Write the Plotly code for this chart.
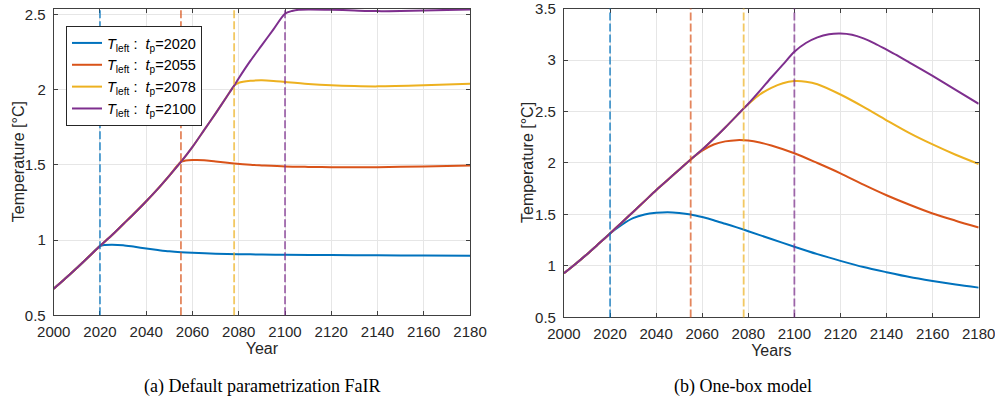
import plotly.graph_objects as go

# Peak years t_p and line colours (MATLAB default order)
PEAK_YEARS = [2020, 2055, 2078, 2100]
COLORS = ["#0072BD", "#D95319", "#EDB120", "#7E2F8E"]

# Shared warming path before the peak year (both panels use the same years)
PATH_YEARS = [2000, 2005, 2010, 2015, 2020, 2025, 2030, 2035, 2040, 2045, 2050,
              2055, 2060, 2065, 2070, 2075, 2078, 2080, 2085, 2090, 2095, 2100]

# (a) Default parametrization FaIR
FAIR_PATH_T = [0.677, 0.745, 0.815, 0.887, 0.960, 1.030, 1.105, 1.180, 1.258, 1.340, 1.428,
               1.519, 1.619, 1.730, 1.842, 1.957, 2.026, 2.075, 2.190, 2.295, 2.400, 2.504]
FAIR_AFTER_YEARS = [
    [2022, 2025, 2030, 2035, 2040, 2045, 2050, 2055, 2060, 2070, 2080, 2090, 2100, 2120, 2140, 2160, 2180],
    [2057, 2060, 2065, 2070, 2078, 2085, 2090, 2100, 2110, 2120, 2140, 2160, 2180],
    [2080, 2085, 2090, 2095, 2100, 2110, 2120, 2130, 2140, 2160, 2180],
    [2103, 2106, 2110, 2120, 2130, 2140, 2150, 2160, 2170, 2180],
]
FAIR_AFTER_T = [
    [0.967, 0.969, 0.966, 0.955, 0.944, 0.934, 0.925, 0.919, 0.915, 0.909, 0.906, 0.904, 0.902, 0.900, 0.899, 0.897, 0.895],
    [1.528, 1.532, 1.531, 1.522, 1.509, 1.500, 1.496, 1.489, 1.486, 1.484, 1.484, 1.489, 1.495],
    [2.045, 2.058, 2.061, 2.057, 2.050, 2.037, 2.028, 2.023, 2.021, 2.028, 2.039],
    [2.522, 2.530, 2.532, 2.530, 2.525, 2.521, 2.522, 2.525, 2.529, 2.532],
]

# (b) One-box model
ONEBOX_PATH_T = [0.930, 1.020, 1.115, 1.215, 1.316, 1.420, 1.525, 1.630, 1.735, 1.835, 1.935,
                 2.035, 2.130, 2.235, 2.345, 2.460, 2.530, 2.575, 2.700, 2.830, 2.955, 3.080]
ONEBOX_AFTER_YEARS = [
    [2025, 2030, 2035, 2040, 2045, 2050, 2055, 2060, 2065, 2070, 2075, 2080, 2090, 2100,
     2110, 2120, 2130, 2140, 2150, 2160, 2170, 2180],
    [2060, 2065, 2070, 2075, 2080, 2085, 2090, 2100, 2110, 2120, 2130, 2140, 2150, 2160, 2170, 2180],
    [2080, 2085, 2090, 2095, 2100, 2105, 2110, 2120, 2130, 2140, 2150, 2160, 2170, 2180],
    [2105, 2110, 2115, 2120, 2125, 2130, 2135, 2140, 2145, 2150, 2160, 2170, 2180],
]
ONEBOX_AFTER_T = [
    [1.400, 1.465, 1.500, 1.516, 1.522, 1.515, 1.500, 1.475, 1.445, 1.410, 1.375, 1.338, 1.262, 1.187,
     1.115, 1.050, 0.990, 0.940, 0.893, 0.855, 0.820, 0.790],
    [2.120, 2.180, 2.210, 2.222, 2.218, 2.200, 2.170, 2.095, 2.000, 1.900, 1.790, 1.687, 1.595, 1.510, 1.440, 1.374],
    [2.570, 2.665, 2.730, 2.775, 2.795, 2.790, 2.765, 2.665, 2.545, 2.415, 2.290, 2.180, 2.080, 1.990],
    [3.165, 3.220, 3.250, 3.257, 3.245, 3.210, 3.160, 3.100, 3.040, 2.975, 2.845, 2.710, 2.575],
]

X_TICKS = list(range(2000, 2181, 20))
LEFT_Y_RANGE = [0.5, 2.535]
RIGHT_Y_RANGE = [0.5, 3.5]

FONT = "Liberation Sans, Arial, sans-serif"
SERIF = "Liberation Serif, Times New Roman, serif"
INK = "#262626"
GRID = "#e6e6e6"

LEFT_X_DOMAIN = [0.054, 0.4724]
LEFT_Y_DOMAIN = [0.2328, 0.9781]
RIGHT_X_DOMAIN = [0.5668, 0.9836]
RIGHT_Y_DOMAIN = [0.2275, 0.9793]


def full_series(tp, path_t, after_years, after_t):
    """Shared path up to the peak year, followed by the post-peak response."""
    xs = [y for y in PATH_YEARS if y <= tp]
    ys = [t for y, t in zip(PATH_YEARS, path_t) if y <= tp]
    return xs + after_years, ys + after_t


def legend_name(tp):
    return f"<i>T</i><sub>left</sub>&nbsp;:&nbsp;&nbsp;<i>t</i><sub>p</sub>={tp}"


fig = go.Figure()

panels = [
    ("x", "y", FAIR_PATH_T, FAIR_AFTER_YEARS, FAIR_AFTER_T, True),
    ("x2", "y2", ONEBOX_PATH_T, ONEBOX_AFTER_YEARS, ONEBOX_AFTER_T, False),
]

for xa, ya, path_t, after_years, after_t, show_legend in panels:
    for tp, color, ay, at in zip(PEAK_YEARS, COLORS, after_years, after_t):
        xs, ys = full_series(tp, path_t, ay, at)
        fig.add_trace(go.Scatter(
            x=xs, y=ys, mode="lines", xaxis=xa, yaxis=ya,
            line=dict(color=color, width=2, shape="spline", smoothing=0.8),
            name=legend_name(tp), showlegend=show_legend, hoverinfo="skip",
        ))
    # dashed markers at each peak year
    for tp, color in zip(PEAK_YEARS, COLORS):
        fig.add_shape(
            type="line", xref=xa, x0=tp, x1=tp,
            yref=f"{ya} domain", y0=0, y1=1,
            line=dict(color=color, width=1.8, dash="8px,3px"),
            opacity=0.7, layer="above",
        )

axis_common = dict(
    automargin=False, ticklabeloverflow="allow",
    showline=True, linecolor="#404040", linewidth=1, mirror="ticks",
    ticks="inside", ticklen=4, tickcolor="#404040",
    showgrid=True, gridcolor=GRID, gridwidth=1, zeroline=False,
    tickfont=dict(family=FONT, size=15, color=INK),
)
title_font = dict(family=FONT, size=16, color=INK)


def y_title(x_px, y_domain):
    return dict(text="Temperature [°C]", x=x_px / 995, y=sum(y_domain) / 2,
                xref="paper", yref="paper", showarrow=False, textangle=-90,
                xanchor="center", yanchor="middle", font=title_font)


fig.update_layout(
    width=995, height=411,
    margin=dict(l=0, r=0, t=0, b=0),
    paper_bgcolor="white", plot_bgcolor="white",
    font=dict(family=FONT, color=INK),
    showlegend=True,
    legend=dict(
        x=66 / 995, y=1 - 26 / 411, xanchor="left", yanchor="top",
        bgcolor="white", bordercolor=INK, borderwidth=1,
        font=dict(family=FONT, size=14.5, color="black"),
        tracegroupgap=0, itemwidth=30,
    ),
    xaxis=dict(domain=LEFT_X_DOMAIN, range=[2000, 2180], tickvals=X_TICKS,
               ticklabelstandoff=3,
               title=dict(text="Year", font=title_font, standoff=3),
               anchor="y", **axis_common),
    yaxis=dict(domain=LEFT_Y_DOMAIN, range=LEFT_Y_RANGE, tick0=0.5, dtick=0.5,
               ticklabelstandoff=4, anchor="x", **axis_common),
    xaxis2=dict(domain=RIGHT_X_DOMAIN, range=[2000, 2180], tickvals=X_TICKS,
                ticklabelstandoff=3,
                title=dict(text="Years", font=title_font, standoff=3),
                anchor="y2", **axis_common),
    yaxis2=dict(domain=RIGHT_Y_DOMAIN, range=RIGHT_Y_RANGE, tick0=0.5, dtick=0.5,
                ticklabelstandoff=4, anchor="x2", **axis_common),
    annotations=[
        y_title(18, LEFT_Y_DOMAIN),
        y_title(527, RIGHT_Y_DOMAIN),
        dict(text="(a) Default parametrization FaIR", x=262 / 995, y=1 - 386 / 411,
             xref="paper", yref="paper", showarrow=False, xanchor="center", yanchor="middle",
             font=dict(family=SERIF, size=18, color="black")),
        dict(text="(b) One-box model", x=743 / 995, y=1 - 386 / 411,
             xref="paper", yref="paper", showarrow=False, xanchor="center", yanchor="middle",
             font=dict(family=SERIF, size=18, color="black")),
    ],
)

fig.write_html("out.html", config={"displayModeBar": False})
